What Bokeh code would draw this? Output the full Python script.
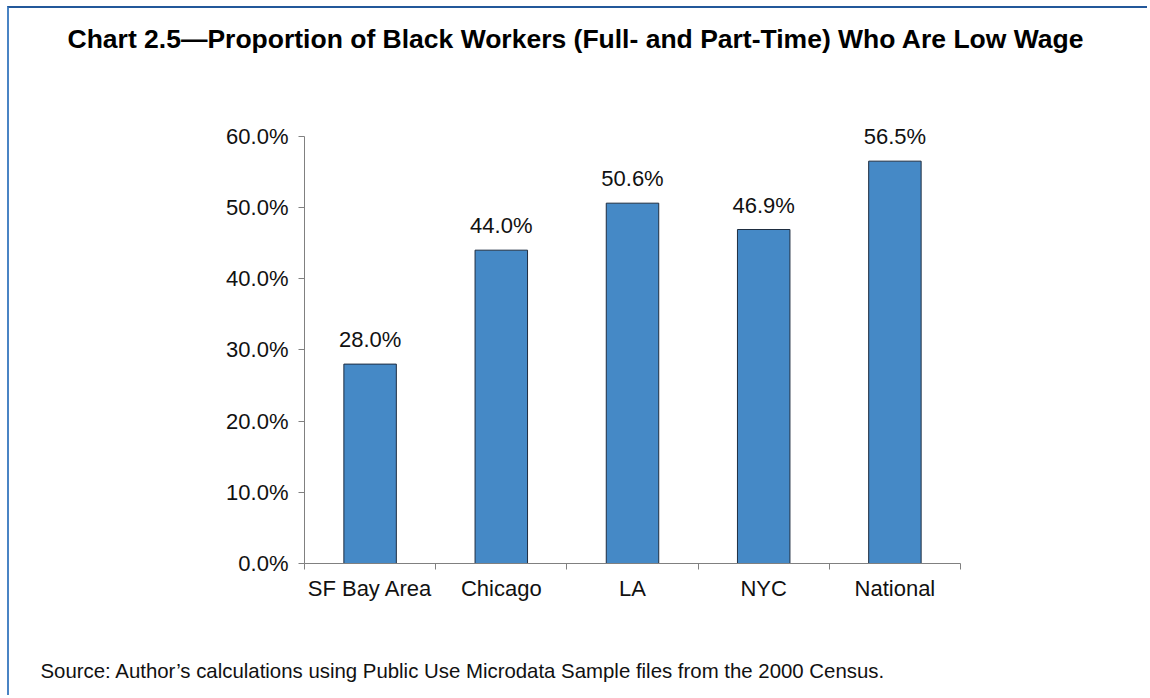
from bokeh.plotting import figure
from bokeh.models import (ColumnDataSource, Range1d, FixedTicker, PrintfTickFormatter,
                          LabelSet, Title)
from bokeh.core.properties import value
from bokeh.embed import file_html
from bokeh.resources import INLINE
import numpy as np

categories = ["SF Bay Area", "Chicago", "LA", "NYC", "National"]
values = [28.0, 44.0, 50.6, 46.9, 56.5]
y_ticks = [0, 10, 20, 30, 40, 50, 60]

title_text = "Chart 2.5\u2014Proportion of Black Workers (Full- and Part-Time) Who Are Low Wage"
source_text = "Source: Author\u2019s calculations using Public Use Microdata Sample files from the 2000 Census."

FONT = "Liberation Sans"

xpos = np.arange(len(categories)) + 0.5
src = ColumnDataSource(dict(x=xpos, top=values,
                            lab=[f"{v:.1f}%" for v in values]))

W, H = 1140, 689
p = figure(width=W, height=H, output_backend="svg", toolbar_location=None,
           x_range=Range1d(0, len(categories)), y_range=Range1d(0, 66),
           min_border_left=295, min_border_right=W - 951,
           min_border_top=85, min_border_bottom=H - 555,
           background_fill_color="white", border_fill_color="white",
           outline_line_color=None, title=None,
           styles={"margin-top": "6px", "margin-left": "7px",
                   "border-top": "2px solid #23589a", "border-left": "2px solid #4a84c4"})
p.grid.visible = False

p.vbar(x="x", top="top", width=0.4, source=src, fill_color="#4589c6",
       line_color="#1e2d40", line_width=1)

labels = LabelSet(x="x", y="top", text="lab", source=src, text_align="center",
                  text_baseline="alphabetic", y_offset=17, text_font=value(FONT),
                  text_font_size="22px", text_color="#111111")
p.add_layout(labels)

# y axis
ya = p.yaxis[0]
ya.bounds = (0, 60)
ya.ticker = FixedTicker(ticks=y_ticks, minor_ticks=[])
ya.formatter = PrintfTickFormatter(format="%.1f%%")
ya.axis_line_color = "#808080"
ya.major_tick_line_color = "#808080"
ya.major_tick_in = 0
ya.major_tick_out = 6
ya.minor_tick_line_color = None
ya.major_label_text_font = FONT
ya.major_label_text_font_size = "22px"
ya.major_label_text_color = "#111111"
ya.major_label_standoff = 10

# x axis
xa = p.xaxis[0]
xa.ticker = FixedTicker(ticks=list(xpos), minor_ticks=list(range(len(categories) + 1)))
xa.major_label_overrides = {float(x): c for x, c in zip(xpos, categories)}
xa.axis_line_color = "#808080"
xa.major_tick_line_color = None
xa.minor_tick_line_color = "#808080"
xa.minor_tick_in = 0
xa.minor_tick_out = 6
xa.major_label_text_font = FONT
xa.major_label_text_font_size = "22px"
xa.major_label_text_color = "#111111"
xa.major_label_standoff = 6

# spacer + title above
p.add_layout(Title(text=" ", text_font_size="28px", standoff=0), "above")
p.add_layout(Title(text=title_text, align="left", offset=-237, text_font=FONT,
                   text_font_style="bold", text_font_size="26.5px", text_color="#000000",
                   vertical_align="top"), "above")
# spacer + source below
p.add_layout(Title(text=" ", text_font_size="42px", standoff=0), "below")
p.add_layout(Title(text=source_text, align="left", offset=-264, text_font=FONT,
                   text_font_style="normal", text_font_size="20.4px",
                   text_color="#111111"), "below")

open("out.html", "w").write(file_html(p, INLINE))
